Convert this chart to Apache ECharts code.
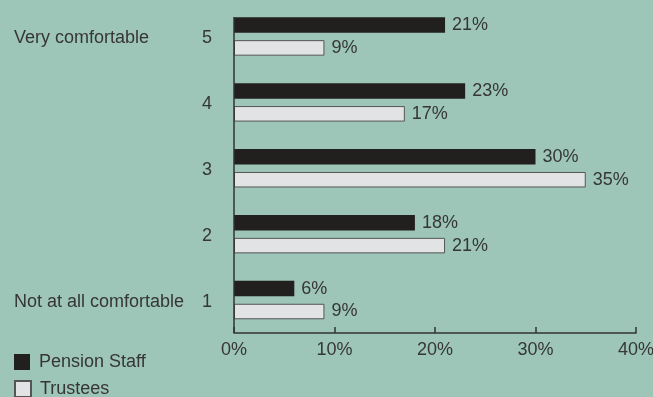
<!DOCTYPE html>
<html>
<head>
<meta charset="utf-8">
<script src="https://cdn.jsdelivr.net/npm/echarts@6/dist/echarts.min.js"></script>
<style>
html,body{margin:0;padding:0;background:#9dc5b8;}
#c{width:653px;height:397px;}
</style>
</head>
<body>
<div id="c"></div>
<script>
const categories = ['1', '2', '3', '4', '5'];
const categoryNames = { '5': 'Very comfortable', '1': 'Not at all comfortable' };
const seriesNames = ['Pension Staff', 'Trustees'];
const pensionStaff = [6, 18, 30, 23, 21];
const trustees = [9, 21, 35, 17, 9];
const xTicks = { min: 0, max: 40, interval: 10 };

const FONT = '"Liberation Sans", Arial, sans-serif';
const TXT = '#363636';
const FS = 18;
const chart = echarts.init(document.getElementById('c'), null, { renderer: 'canvas' });

const labelStyle = {
  show: true, position: 'right', distance: 7,
  formatter: '{c}%', color: TXT, fontSize: FS, fontFamily: FONT
};

function legendFor(name, top) {
  return {
    orient: 'vertical', left: 14, top: top, padding: 0,
    itemWidth: 16, itemHeight: 16, itemGap: 0,
    icon: 'rect', selectedMode: false,
    data: [name],
    textStyle: { color: TXT, fontSize: FS, fontFamily: FONT, padding: [0, 0, 0, 4] }
  };
}

chart.setOption({
  backgroundColor: '#9dc5b8',
  animation: false,
  textStyle: { fontFamily: FONT },
  grid: { left: 234, right: 17, top: 3.5, bottom: 64, containLabel: false, outerBoundsMode: 'none' },
  legend: [legendFor(seriesNames[0], 353), legendFor(seriesNames[1], 380)],
  xAxis: {
    type: 'value', min: xTicks.min, max: xTicks.max, interval: xTicks.interval,
    axisLine: { show: true, lineStyle: { color: '#333', width: 1.5 } },
    axisTick: { show: true, inside: true, length: 6, lineStyle: { color: '#333', width: 1.5 } },
    splitLine: { show: false },
    axisLabel: { formatter: '{value}%', color: TXT, fontSize: FS, fontFamily: FONT, margin: 8 }
  },
  yAxis: {
    type: 'category', data: categories,
    axisLine: { show: false },
    axisTick: { show: false },
    axisLabel: {
      margin: 22, color: TXT, fontSize: FS, fontFamily: FONT,
      formatter: function (v) {
        if (categoryNames[v]) return '{t|' + categoryNames[v] + '}{n|' + v + '}';
        return '{n|' + v + '}';
      },
      rich: {
        t: { width: 186, align: 'left', color: TXT, fontSize: FS, fontFamily: FONT, padding: [3, 0, 0, 0] },
        n: { width: 12, align: 'right', color: TXT, fontSize: FS, fontFamily: FONT, padding: [3, 0, 0, 0] }
      }
    }
  },
  series: [
    {
      name: seriesNames[0], type: 'bar', data: pensionStaff,
      barWidth: 15.5, barGap: '48%',
      itemStyle: { color: '#221f1f', borderColor: '#221f1f', borderWidth: 0 },
      label: labelStyle
    },
    {
      name: seriesNames[1], type: 'bar', data: trustees,
      barWidth: 15.5, barGap: '48%',
      itemStyle: { color: '#e2e3e4', borderColor: '#555', borderWidth: 1 },
      label: labelStyle
    }
  ]
});

// vertical axis line from top of highest bar group down to x axis
function drawYLine() {
  const x0 = chart.convertToPixel({ xAxisIndex: 0 }, 0);
  const yTop = chart.convertToPixel({ yAxisIndex: 0 }, categories[categories.length - 1]);
  const yBot = chart.convertToPixel({ yAxisIndex: 0 }, categories[0]);
  const band = (yBot - yTop) / (categories.length - 1);
  chart.setOption({
    graphic: [{
      type: 'line', z: 10,
      shape: { x1: x0, y1: yTop - 19.5, x2: x0, y2: yBot + band / 2 },
      style: { stroke: '#333', lineWidth: 1.5 }
    }]
  });
}
drawYLine();
</script>
</body>
</html>
